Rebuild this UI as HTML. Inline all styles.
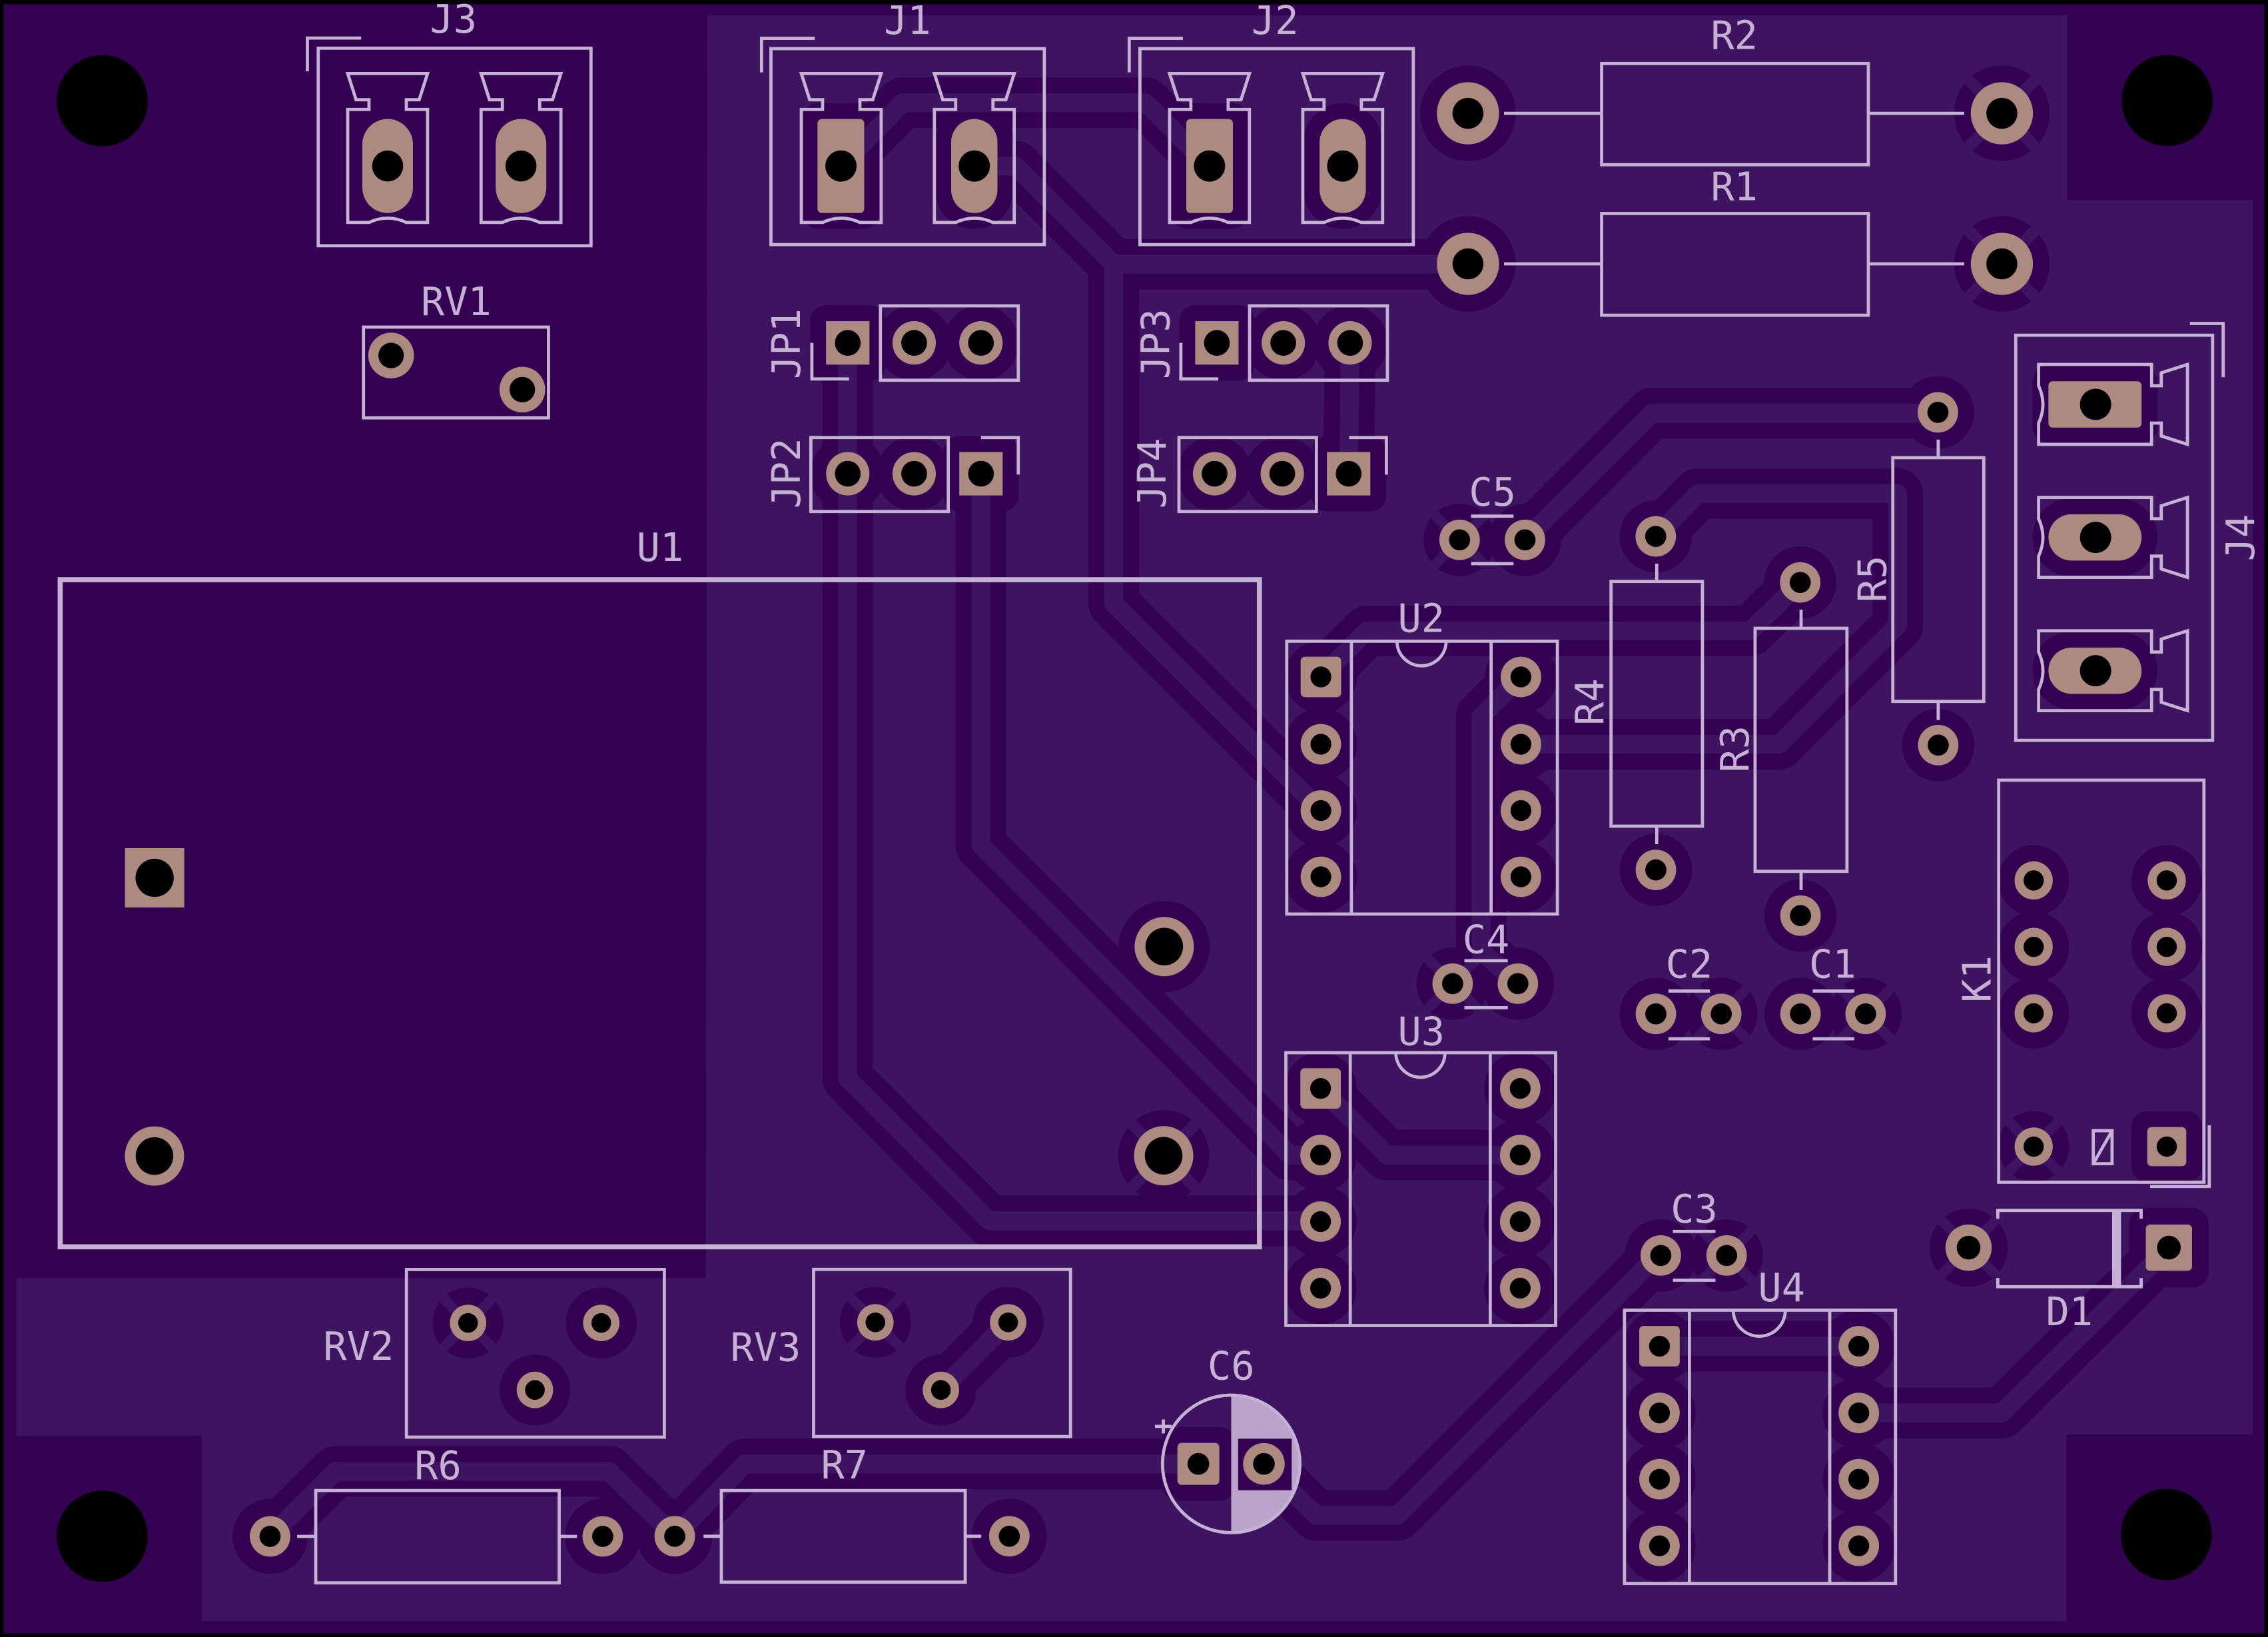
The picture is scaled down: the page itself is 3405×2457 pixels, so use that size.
<!DOCTYPE html>
<html><head><meta charset="utf-8"><style>
html,body{margin:0;padding:0;background:#000}
svg{display:block}
.s{fill:none;stroke:#c4b1d4;stroke-width:2.2}
.k{fill:#330052}
.p{fill:#ad8a80}
.h{fill:#000}
.td{fill:none;stroke:#330052;stroke-width:35;stroke-linejoin:round;stroke-linecap:round}
.tl{fill:none;stroke:#3e1460;stroke-width:13;stroke-linejoin:round;stroke-linecap:round}
.sp{fill:none;stroke:#3e1460;stroke-width:8}
text{font-family:"DejaVu Sans Mono","Liberation Mono",monospace;font-size:27px;fill:#c4b1d4}
</style></head><body>
<svg xmlns="http://www.w3.org/2000/svg" width="3405" height="2457" viewBox="0 0 1568 1131" preserveAspectRatio="none">
<rect width="1568" height="1131" fill="#000"/>
<rect x="2.5" y="3" width="1563" height="1125.5" fill="#330052"/>
<path d="M489,10.6 L1429,10.6 L1429,138.4 L1557.5,138.4 L1557.5,991 L1428.6,991 L1428.6,1120 L139.5,1120 L139.5,992 L11.3,992 L11.3,883 L488,883 Z" fill="#3e1460"/>

<!-- dark layer: traces clearance -->
<g class="td">
<polyline points="581.4,114.7 624,71 792,71 836.2,114.7"/>
<polyline points="673.5,114.7 702,114.7 770,182.5 1015,182.5"/>
<polyline points="770,182.5 770,417 913.2,560"/>
<polyline points="586,237 586,745 684,843.5 913,843.5"/>
<polyline points="678.2,327 678.2,584 892,798 913,798"/>
<polyline points="933.4,237 932.4,327"/>
<polyline points="1054.3,373 1142,285.5 1339.8,285.5"/>
<polyline points="1144.7,370.6 1174,341 1312,341 1312,432 1230,514.2 1051.5,514.2"/>
<polyline points="913.2,467.7 945,436 1210,436 1244.6,402.4"/>
<polyline points="1051.5,467.7 1024,495 1024,657 1049.4,679.6"/>
<polyline points="913,752 959,798 1051,798"/>
<polyline points="1147.3,930.1 1285.1,930.1"/>
<polyline points="1285.1,976.2 1384,976.2 1499.5,862"/>
<polyline points="873.8,1011.4 910,1047 966,1047 1146,867.4"/>
<polyline points="828.5,1011.4 515,1011.4 466.5,1061.4"/>
<polyline points="186.7,1061.5 232,1016.5 421,1016.5 466.5,1061.4"/>
<polyline points="697,913.6 650.5,960.3"/>
</g>

<!-- dark layer: pad clearances -->
<g class="k">
<circle cx="1014.9" cy="78.3" r="33"/><circle cx="1384" cy="78.3" r="33"/>
<circle cx="1014.9" cy="182.3" r="33"/><circle cx="1384" cy="182.3" r="33"/>
<circle cx="804.9" cy="654" r="31.5"/><circle cx="804.5" cy="798.5" r="31.5"/>
<rect x="554.2" y="71.2" width="54.4" height="87" rx="12"/>
<rect x="646.6" y="71.2" width="54" height="87" rx="27"/>
<rect x="809" y="71.2" width="54.4" height="87" rx="12"/>
<rect x="901.3" y="71.2" width="54" height="87" rx="27"/>
<rect x="1405.2" y="252.4" width="86.4" height="54" rx="12"/>
<rect x="1405.2" y="344.3" width="86.4" height="54" rx="27"/>
<rect x="1405.2" y="436.4" width="86.4" height="54" rx="27"/>
<rect x="560.1" y="210.9" width="52" height="52" rx="11"/><circle cx="632" cy="236.9" r="26"/><circle cx="678.2" cy="236.9" r="26"/>
<circle cx="586.1" cy="327.3" r="26"/><circle cx="632" cy="327.3" r="26"/><rect x="652.2" y="301.3" width="52" height="52" rx="11"/>
<rect x="815.3" y="210.9" width="52" height="52" rx="11"/><circle cx="887.2" cy="236.9" r="26"/><circle cx="933.4" cy="236.9" r="26"/>
<circle cx="839.7" cy="327.3" r="26"/><circle cx="886.5" cy="327.3" r="26"/><rect x="906.4" y="301.3" width="52" height="52" rx="11"/>
<circle cx="1009.1" cy="373" r="25"/><circle cx="1054.3" cy="373" r="25"/>
<circle cx="1339.8" cy="284.9" r="25"/><circle cx="1340" cy="514.8" r="25"/>
<circle cx="1144.7" cy="370.6" r="25"/><circle cx="1144.8" cy="601" r="25"/>
<circle cx="1244.6" cy="402.4" r="25"/><circle cx="1244.8" cy="632.6" r="25"/>
<circle cx="1004.3" cy="679.6" r="25"/><circle cx="1049.4" cy="679.6" r="25"/>
<circle cx="1144.8" cy="700.5" r="25"/><circle cx="1190" cy="700.5" r="25"/>
<circle cx="1244.8" cy="700.5" r="25"/><circle cx="1289.8" cy="700.5" r="25"/>
<circle cx="1148.2" cy="867.4" r="25"/><circle cx="1193.7" cy="867.4" r="25"/>
<circle cx="186.7" cy="1061.5" r="26"/><circle cx="416.7" cy="1061.5" r="26"/>
<circle cx="466.5" cy="1061.4" r="26"/><circle cx="697.8" cy="1061.4" r="26"/>
<circle cx="873.8" cy="1011.4" r="25.5"/><rect x="803" y="985.9" width="51" height="51" rx="11"/>
<circle cx="913.2" cy="467.7" r="25"/><circle cx="913.2" cy="514.2" r="25"/><circle cx="913.2" cy="560" r="25"/><circle cx="913.2" cy="605.8" r="25"/>
<circle cx="1051.5" cy="467.7" r="25"/><circle cx="1051.5" cy="514.2" r="25"/><circle cx="1051.5" cy="560" r="25"/><circle cx="1051.5" cy="605.8" r="25"/>
<circle cx="913" cy="752" r="25"/><circle cx="913" cy="798" r="25"/><circle cx="913" cy="844" r="25"/><circle cx="913" cy="890" r="25"/>
<circle cx="1051" cy="752" r="25"/><circle cx="1051" cy="798" r="25"/><circle cx="1051" cy="844" r="25"/><circle cx="1051" cy="890" r="25"/>
<circle cx="1147.3" cy="930.1" r="25"/><circle cx="1147.3" cy="976.2" r="25"/><circle cx="1147.3" cy="1022" r="25"/><circle cx="1147.3" cy="1068" r="25"/>
<circle cx="1285.1" cy="930.1" r="25"/><circle cx="1285.1" cy="976.2" r="25"/><circle cx="1285.1" cy="1022" r="25"/><circle cx="1285.1" cy="1068" r="25"/>
<circle cx="1406" cy="608.3" r="24.5"/><circle cx="1406" cy="654.2" r="24.5"/><circle cx="1406" cy="700.1" r="24.5"/><circle cx="1406" cy="792.2" r="24.5"/>
<circle cx="1498" cy="608.3" r="24.5"/><circle cx="1498" cy="654.2" r="24.5"/><circle cx="1498" cy="700.1" r="24.5"/>
<rect x="1473.5" y="767.7" width="49" height="49" rx="11"/>
<circle cx="1361" cy="862" r="27"/><rect x="1472" y="834.5" width="55" height="55" rx="11"/>
<circle cx="323.6" cy="914" r="24.5"/><circle cx="415.7" cy="914" r="24.5"/><circle cx="369.8" cy="960.3" r="24.5"/>
<circle cx="605.2" cy="913.6" r="24.5"/><circle cx="697" cy="913.6" r="24.5"/><circle cx="650.5" cy="960.3" r="24.5"/>
</g>

<!-- light layer: traces -->
<g class="tl">
<polyline points="581.4,114.7 624,71 792,71 836.2,114.7"/>
<polyline points="673.5,114.7 702,114.7 770,182.5 1015,182.5"/>
<polyline points="770,182.5 770,417 913.2,560"/>
<polyline points="586,237 586,745 684,843.5 913,843.5"/>
<polyline points="678.2,327 678.2,584 892,798 913,798"/>
<polyline points="933.4,237 932.4,327"/>
<polyline points="1054.3,373 1142,285.5 1339.8,285.5"/>
<polyline points="1144.7,370.6 1174,341 1312,341 1312,432 1230,514.2 1051.5,514.2"/>
<polyline points="913.2,467.7 945,436 1210,436 1244.6,402.4"/>
<polyline points="1051.5,467.7 1024,495 1024,657 1049.4,679.6"/>
<polyline points="913,752 959,798 1051,798"/>
<polyline points="1147.3,930.1 1285.1,930.1"/>
<polyline points="1285.1,976.2 1384,976.2 1499.5,862"/>
<polyline points="873.8,1011.4 910,1047 966,1047 1146,867.4"/>
<polyline points="828.5,1011.4 515,1011.4 466.5,1061.4"/>
<polyline points="186.7,1061.5 232,1016.5 421,1016.5 466.5,1061.4"/>
<polyline points="697,913.6 650.5,960.3"/>
</g>

<!-- thermal spokes -->
<path class="sp" d="M1360.7,55 L1407.3,101.6 M1407.3,55 L1360.7,101.6
M1360.7,159 L1407.3,205.6 M1407.3,159 L1360.7,205.6
M782.2,776.2 L826.8,820.8 M826.8,776.2 L782.2,820.8"/>
<path class="sp" style="stroke-width:7" d="M991.4,355.3 L1026.8,390.7 M1026.8,355.3 L991.4,390.7
M986.6,661.9 L1022,697.3 M1022,661.9 L986.6,697.3
M1172.3,682.8 L1207.7,718.2 M1207.7,682.8 L1172.3,718.2
M1272.1,682.8 L1307.5,718.2 M1307.5,682.8 L1272.1,718.2
M1176,849.7 L1211.4,885.1 M1211.4,849.7 L1176,885.1
M1388.7,774.9 L1423.3,809.5 M1423.3,774.9 L1388.7,809.5
M1341.9,842.9 L1380.1,881.1 M1380.1,842.9 L1341.9,881.1
M306.3,896.7 L340.9,931.3 M340.9,896.7 L306.3,931.3
M587.9,896.3 L622.5,930.9 M622.5,896.3 L587.9,930.9"/>

<!-- pads -->
<g class="p">
<circle cx="1014.9" cy="78.3" r="21.5"/><circle cx="1384" cy="78.3" r="21.5"/>
<circle cx="1014.9" cy="182.3" r="21.5"/><circle cx="1384" cy="182.3" r="21.5"/>
<rect x="86.4" y="586" width="41" height="41"/>
<circle cx="106.8" cy="798.7" r="20.5"/><circle cx="804.9" cy="654" r="20.5"/><circle cx="804.5" cy="798.5" r="20.5"/>
<rect x="250.5" y="82.2" width="35" height="65" rx="17.5"/><rect x="342.7" y="82.2" width="35" height="65" rx="17.5"/>
<rect x="565.2" y="82.2" width="32.3" height="65" rx="3"/><rect x="657.6" y="82.2" width="32" height="65" rx="16"/>
<rect x="820.1" y="82.2" width="32.3" height="65" rx="3"/><rect x="912.3" y="82.2" width="32" height="65" rx="16"/>
<rect x="1416.2" y="263.4" width="64.4" height="32" rx="3"/>
<rect x="1416.2" y="355.3" width="64.4" height="32" rx="16"/>
<rect x="1416.2" y="447.4" width="64.4" height="32" rx="16"/>
<circle cx="270.4" cy="245.6" r="15.8"/><circle cx="361.1" cy="269.2" r="15.8"/>
<rect x="571.1" y="221.9" width="30" height="30"/><circle cx="632" cy="236.9" r="15"/><circle cx="678.2" cy="236.9" r="15"/>
<circle cx="586.1" cy="327.3" r="15"/><circle cx="632" cy="327.3" r="15"/><rect x="663.2" y="312.3" width="30" height="30"/>
<rect x="826.3" y="221.9" width="30" height="30"/><circle cx="887.2" cy="236.9" r="15"/><circle cx="933.4" cy="236.9" r="15"/>
<circle cx="839.7" cy="327.3" r="15"/><circle cx="886.5" cy="327.3" r="15"/><rect x="917.4" y="312.3" width="30" height="30"/>
<circle cx="1009.1" cy="373" r="14"/><circle cx="1054.3" cy="373" r="14"/>
<circle cx="1339.8" cy="284.9" r="14"/><circle cx="1340" cy="514.8" r="14"/>
<circle cx="1144.7" cy="370.6" r="14"/><circle cx="1144.8" cy="601" r="14"/>
<circle cx="1244.6" cy="402.4" r="14"/><circle cx="1244.8" cy="632.6" r="14"/>
<circle cx="1004.3" cy="679.6" r="14"/><circle cx="1049.4" cy="679.6" r="14"/>
<circle cx="1144.8" cy="700.5" r="14"/><circle cx="1190" cy="700.5" r="14"/>
<circle cx="1244.8" cy="700.5" r="14"/><circle cx="1289.8" cy="700.5" r="14"/>
<circle cx="1148.2" cy="867.4" r="14"/><circle cx="1193.7" cy="867.4" r="14"/>
<circle cx="186.7" cy="1061.5" r="14"/><circle cx="416.7" cy="1061.5" r="14"/>
<circle cx="466.5" cy="1061.4" r="14"/><circle cx="697.8" cy="1061.4" r="14"/>
<rect x="814" y="996.9" width="29" height="29" rx="3"/>
<rect x="899.2" y="453.7" width="28" height="28" rx="3"/><circle cx="913.2" cy="514.2" r="14"/><circle cx="913.2" cy="560" r="14"/><circle cx="913.2" cy="605.8" r="14"/>
<circle cx="1051.5" cy="467.7" r="14"/><circle cx="1051.5" cy="514.2" r="14"/><circle cx="1051.5" cy="560" r="14"/><circle cx="1051.5" cy="605.8" r="14"/>
<rect x="899" y="738" width="28" height="28" rx="3"/><circle cx="913" cy="798" r="14"/><circle cx="913" cy="844" r="14"/><circle cx="913" cy="890" r="14"/>
<circle cx="1051" cy="752" r="14"/><circle cx="1051" cy="798" r="14"/><circle cx="1051" cy="844" r="14"/><circle cx="1051" cy="890" r="14"/>
<rect x="1133.3" y="916.1" width="28" height="28" rx="3"/><circle cx="1147.3" cy="976.2" r="14"/><circle cx="1147.3" cy="1022" r="14"/><circle cx="1147.3" cy="1068" r="14"/>
<circle cx="1285.1" cy="930.1" r="14"/><circle cx="1285.1" cy="976.2" r="14"/><circle cx="1285.1" cy="1022" r="14"/><circle cx="1285.1" cy="1068" r="14"/>
<circle cx="1406" cy="608.3" r="13.2"/><circle cx="1406" cy="654.2" r="13.2"/><circle cx="1406" cy="700.1" r="13.2"/><circle cx="1406" cy="792.2" r="13.2"/>
<circle cx="1498" cy="608.3" r="13.2"/><circle cx="1498" cy="654.2" r="13.2"/><circle cx="1498" cy="700.1" r="13.2"/>
<rect x="1484.5" y="778.7" width="27" height="27" rx="3"/>
<circle cx="1361" cy="862" r="16"/><rect x="1483.5" y="846" width="32" height="32" rx="3"/>
<circle cx="323.6" cy="914" r="12.6"/><circle cx="415.7" cy="914" r="12.6"/><circle cx="369.8" cy="960.3" r="12.6"/>
<circle cx="605.2" cy="913.6" r="12.6"/><circle cx="697" cy="913.6" r="12.6"/><circle cx="650.5" cy="960.3" r="12.6"/>
</g>

<!-- drills -->
<g class="h">
<circle cx="70.7" cy="69.6" r="31.5"/><circle cx="1498.3" cy="69.4" r="31.5"/>
<circle cx="70.7" cy="1061.4" r="31.5"/><circle cx="1497.7" cy="1060.2" r="31.5"/>
<circle cx="1014.9" cy="78.3" r="10.7"/><circle cx="1384" cy="78.3" r="10.7"/>
<circle cx="1014.9" cy="182.3" r="10.7"/><circle cx="1384" cy="182.3" r="10.7"/>
<circle cx="106.9" cy="606.5" r="13.2"/><circle cx="106.8" cy="798.7" r="13"/><circle cx="804.9" cy="654" r="13"/><circle cx="804.5" cy="798.5" r="13"/>
<circle cx="268" cy="114.7" r="10.7"/><circle cx="360.2" cy="114.7" r="10.7"/>
<circle cx="581.4" cy="114.7" r="10.8"/><circle cx="673.6" cy="114.7" r="10.8"/>
<circle cx="836.2" cy="114.7" r="10.8"/><circle cx="928.3" cy="114.7" r="10.8"/>
<circle cx="1448.8" cy="279.4" r="10.8"/><circle cx="1448.8" cy="371.3" r="10.8"/><circle cx="1448.8" cy="463.4" r="10.8"/>
<circle cx="270.4" cy="245.6" r="8.8"/><circle cx="361.1" cy="269.2" r="8.8"/>
<circle cx="586.1" cy="236.9" r="8.9"/><circle cx="632" cy="236.9" r="8.9"/><circle cx="678.2" cy="236.9" r="8.9"/>
<circle cx="586.1" cy="327.3" r="8.9"/><circle cx="632" cy="327.3" r="8.9"/><circle cx="678.2" cy="327.3" r="8.9"/>
<circle cx="841.3" cy="236.9" r="8.9"/><circle cx="887.2" cy="236.9" r="8.9"/><circle cx="933.4" cy="236.9" r="8.9"/>
<circle cx="839.7" cy="327.3" r="8.9"/><circle cx="886.5" cy="327.3" r="8.9"/><circle cx="932.4" cy="327.3" r="8.9"/>
<circle cx="1009.1" cy="373" r="7.3"/><circle cx="1054.3" cy="373" r="7.3"/>
<circle cx="1339.8" cy="284.9" r="7.3"/><circle cx="1340" cy="514.8" r="7.3"/>
<circle cx="1144.7" cy="370.6" r="7.3"/><circle cx="1144.8" cy="601" r="7.3"/>
<circle cx="1244.6" cy="402.4" r="7.3"/><circle cx="1244.8" cy="632.6" r="7.3"/>
<circle cx="1004.3" cy="679.6" r="7.3"/><circle cx="1049.4" cy="679.6" r="7.3"/>
<circle cx="1144.8" cy="700.5" r="7.3"/><circle cx="1190" cy="700.5" r="7.3"/>
<circle cx="1244.8" cy="700.5" r="7.3"/><circle cx="1289.8" cy="700.5" r="7.3"/>
<circle cx="1148.2" cy="867.4" r="7.3"/><circle cx="1193.7" cy="867.4" r="7.3"/>
<circle cx="186.7" cy="1061.5" r="7.3"/><circle cx="416.7" cy="1061.5" r="7.3"/>
<circle cx="466.5" cy="1061.4" r="7.3"/><circle cx="697.8" cy="1061.4" r="7.3"/>
<circle cx="828.5" cy="1011.4" r="7.5"/>
<circle cx="913.2" cy="467.7" r="7.2"/><circle cx="913.2" cy="514.2" r="7.2"/><circle cx="913.2" cy="560" r="7.2"/><circle cx="913.2" cy="605.8" r="7.2"/>
<circle cx="1051.5" cy="467.7" r="7.2"/><circle cx="1051.5" cy="514.2" r="7.2"/><circle cx="1051.5" cy="560" r="7.2"/><circle cx="1051.5" cy="605.8" r="7.2"/>
<circle cx="913" cy="752" r="7.2"/><circle cx="913" cy="798" r="7.2"/><circle cx="913" cy="844" r="7.2"/><circle cx="913" cy="890" r="7.2"/>
<circle cx="1051" cy="752" r="7.2"/><circle cx="1051" cy="798" r="7.2"/><circle cx="1051" cy="844" r="7.2"/><circle cx="1051" cy="890" r="7.2"/>
<circle cx="1147.3" cy="930.1" r="7.2"/><circle cx="1147.3" cy="976.2" r="7.2"/><circle cx="1147.3" cy="1022" r="7.2"/><circle cx="1147.3" cy="1068" r="7.2"/>
<circle cx="1285.1" cy="930.1" r="7.2"/><circle cx="1285.1" cy="976.2" r="7.2"/><circle cx="1285.1" cy="1022" r="7.2"/><circle cx="1285.1" cy="1068" r="7.2"/>
<circle cx="1406" cy="608.3" r="7"/><circle cx="1406" cy="654.2" r="7"/><circle cx="1406" cy="700.1" r="7"/><circle cx="1406" cy="792.2" r="7"/>
<circle cx="1498" cy="608.3" r="7"/><circle cx="1498" cy="654.2" r="7"/><circle cx="1498" cy="700.1" r="7"/><circle cx="1498" cy="792.2" r="7"/>
<circle cx="1361" cy="862" r="8.2"/><circle cx="1499.5" cy="862" r="8.2"/>
<circle cx="323.6" cy="914" r="6.8"/><circle cx="415.7" cy="914" r="6.8"/><circle cx="369.8" cy="960.3" r="6.8"/>
<circle cx="605.2" cy="913.6" r="6.8"/><circle cx="697" cy="913.6" r="6.8"/><circle cx="650.5" cy="960.3" r="6.8"/>
</g>

<!-- silkscreen -->
<g class="s">
<rect x="220" y="33.3" width="188.6" height="136.5"/><polyline points="212.5,49.3 212.5,26.3 249.7,26.3"/>
<rect x="533" y="33.6" width="189" height="135.4"/><polyline points="526.5,50 526.5,26.5 563.3,26.5"/>
<rect x="788.1" y="33.6" width="189" height="135.4"/><polyline points="780.7,50 780.7,26.5 817.8,26.5"/>
<rect x="1393.6" y="231.6" width="136.1" height="279.9"/><polyline points="1514,223.5 1537,223.5 1537,260.6"/>
<path transform="translate(268,114.7)" d="M-27.6,-63.9 L27.6,-63.9 L21.8,-45.8 L12.9,-45.8 L12.9,-39.1 L27.6,-39.1 L27.6,39 L12.9,39 Q0,33 -12.9,39 L-27.6,39 L-27.6,-39.1 L-12.9,-39.1 L-12.9,-45.8 L-21.8,-45.8 Z"/>
<path transform="translate(360.2,114.7)" d="M-27.6,-63.9 L27.6,-63.9 L21.8,-45.8 L12.9,-45.8 L12.9,-39.1 L27.6,-39.1 L27.6,39 L12.9,39 Q0,33 -12.9,39 L-27.6,39 L-27.6,-39.1 L-12.9,-39.1 L-12.9,-45.8 L-21.8,-45.8 Z"/>
<path transform="translate(581.6,114.7)" d="M-27.6,-63.9 L27.6,-63.9 L21.8,-45.8 L12.9,-45.8 L12.9,-39.1 L27.6,-39.1 L27.6,39 L12.9,39 Q0,33 -12.9,39 L-27.6,39 L-27.6,-39.1 L-12.9,-39.1 L-12.9,-45.8 L-21.8,-45.8 Z"/>
<path transform="translate(673.6,114.7)" d="M-27.6,-63.9 L27.6,-63.9 L21.8,-45.8 L12.9,-45.8 L12.9,-39.1 L27.6,-39.1 L27.6,39 L12.9,39 Q0,33 -12.9,39 L-27.6,39 L-27.6,-39.1 L-12.9,-39.1 L-12.9,-45.8 L-21.8,-45.8 Z"/>
<path transform="translate(836.2,114.7)" d="M-27.6,-63.9 L27.6,-63.9 L21.8,-45.8 L12.9,-45.8 L12.9,-39.1 L27.6,-39.1 L27.6,39 L12.9,39 Q0,33 -12.9,39 L-27.6,39 L-27.6,-39.1 L-12.9,-39.1 L-12.9,-45.8 L-21.8,-45.8 Z"/>
<path transform="translate(928.3,114.7)" d="M-27.6,-63.9 L27.6,-63.9 L21.8,-45.8 L12.9,-45.8 L12.9,-39.1 L27.6,-39.1 L27.6,39 L12.9,39 Q0,33 -12.9,39 L-27.6,39 L-27.6,-39.1 L-12.9,-39.1 L-12.9,-45.8 L-21.8,-45.8 Z"/>
<path transform="translate(1448.4,279.4) rotate(90)" d="M-27.6,-63.9 L27.6,-63.9 L21.8,-45.8 L12.9,-45.8 L12.9,-39.1 L27.6,-39.1 L27.6,39 L12.9,39 Q0,33 -12.9,39 L-27.6,39 L-27.6,-39.1 L-12.9,-39.1 L-12.9,-45.8 L-21.8,-45.8 Z"/>
<path transform="translate(1448.4,371.3) rotate(90)" d="M-27.6,-63.9 L27.6,-63.9 L21.8,-45.8 L12.9,-45.8 L12.9,-39.1 L27.6,-39.1 L27.6,39 L12.9,39 Q0,33 -12.9,39 L-27.6,39 L-27.6,-39.1 L-12.9,-39.1 L-12.9,-45.8 L-21.8,-45.8 Z"/>
<path transform="translate(1448.4,463.4) rotate(90)" d="M-27.6,-63.9 L27.6,-63.9 L21.8,-45.8 L12.9,-45.8 L12.9,-39.1 L27.6,-39.1 L27.6,39 L12.9,39 Q0,33 -12.9,39 L-27.6,39 L-27.6,-39.1 L-12.9,-39.1 L-12.9,-45.8 L-21.8,-45.8 Z"/>
<rect x="251.3" y="226" width="127.9" height="62.7"/>
<rect x="41.6" y="400.5" width="829.1" height="460.9" style="stroke-width:3.5"/>
<rect x="608.7" y="211.3" width="95.3" height="51.4"/><polyline points="561.3,236.9 561.3,261.8 587,261.8"/>
<rect x="560.6" y="302.3" width="95" height="51.1"/><polyline points="678.2,302.3 704,302.3 704,327.9"/>
<rect x="863.9" y="211.3" width="95.3" height="51.4"/><polyline points="816.4,236.9 816.4,261.8 842.3,261.8"/>
<rect x="815.1" y="302.3" width="95" height="51.1"/><polyline points="932.7,302.3 958.5,302.3 958.5,327.9"/>
<rect x="1107.3" y="43.9" width="184.4" height="69.9"/><path d="M1039.8,78.3 H1107.3 M1291.7,78.3 H1358"/>
<rect x="1107.3" y="147.5" width="184.4" height="70.3"/><path d="M1039.8,182.3 H1107.3 M1291.7,182.3 H1358"/>
<rect x="1308.6" y="316.2" width="62.9" height="168.4"/><path d="M1340,303.7 V316.2 M1340,484.6 V497.5"/>
<rect x="1113.8" y="401.7" width="63.2" height="169.1"/><path d="M1145.4,389.4 V401.7 M1145.4,570.8 V583.2"/>
<rect x="1213.4" y="434.1" width="63.5" height="167.9"/><path d="M1245.2,421.2 V434.1 M1245.2,602 V615"/>
<path d="M1017,356.6 H1046.4 M1017,389.4 H1046.4"/>
<path d="M1012.4,663.7 H1042.4 M1012.4,696.2 H1042.4"/>
<path d="M1153.5,684.7 H1182.2 M1153.5,717.7 H1182.2"/>
<path d="M1253.2,684.7 H1282 M1253.2,717.7 H1282"/>
<path d="M1156.6,850.8 H1186 M1156.6,884.5 H1186"/>
<rect x="889.6" y="443" width="187.1" height="188.5"/><path d="M934.3,443 V631.5 M1030.9,443 V631.5 M965.8,443 A17,17 0 0 0 999.8,443"/>
<rect x="889" y="727.3" width="186.5" height="188.5"/><path d="M933.5,727.3 V915.8 M1030.3,727.3 V915.8 M965,727.3 A17,17 0 0 0 999,727.3"/>
<rect x="1123.1" y="905.2" width="187.4" height="188.8"/><path d="M1168,905.2 V1094 M1265,905.2 V1094 M1198.3,905.2 A18,18 0 0 0 1234.3,905.2"/>
<rect x="1381.8" y="539" width="141.9" height="277.8"/><polyline points="1486.5,819.7 1527.4,819.7 1527.4,777.5"/>
<rect x="1447.2" y="781.2" width="13" height="22.8"/><path d="M1447.2,804 L1460.2,781.2"/>
<path d="M1381.2,842 V836.3 H1480.3 V842 M1381.2,883 V889 H1480.3 V883"/>
<path d="M798.5,985.5 H810 M804.3,980.7 V990.3"/>
<rect x="281" y="877.1" width="178.3" height="115.8"/>
<rect x="562.5" y="877" width="177.6" height="115.5"/>
<rect x="218.3" y="1029.8" width="168.3" height="63.8"/><path d="M205.4,1061.5 H218.3 M386.6,1061.5 H398.9"/>
<rect x="498.7" y="1029.8" width="168.6" height="63.3"/><path d="M486.4,1061.4 H498.7 M667.3,1061.4 H678.4"/>
<circle cx="851.2" cy="1011.4" r="47.5"/>
</g>
<rect x="1460.2" y="836.3" width="6.2" height="52.7" fill="#c4b1d4"/>
<path d="M851.2,963.9 A47.5,47.5 0 0 1 851.2,1058.9 Z" fill="#c4b1d4" opacity="0.92"/>
<rect x="856" y="994" width="37" height="35.6" fill="#330052"/>
<circle cx="873.8" cy="1011.4" r="14.4" class="p"/><circle cx="873.8" cy="1011.4" r="7.5" class="h"/>

<!-- labels -->
<g text-anchor="middle">
<text x="313.5" y="22.6">J3</text>
<text x="627.4" y="23.5">J1</text>
<text x="881.5" y="23.5">J2</text>
<text x="1199" y="33.8">R2</text>
<text x="1199" y="138.4">R1</text>
<text x="315.4" y="217.8">RV1</text>
<text x="456.3" y="387.7">U1</text>
<text x="1031.8" y="349.5">C5</text>
<text x="982.6" y="436.7">U2</text>
<text x="1027.4" y="658.5">C4</text>
<text x="1167.8" y="675.5">C2</text>
<text x="1267" y="675.5">C1</text>
<text x="982.6" y="722">U3</text>
<text x="1171.3" y="844.6">C3</text>
<text x="1231.7" y="899">U4</text>
<text x="1430.7" y="915.6">D1</text>
<text x="851.1" y="953.2">C6</text>
<text x="247.9" y="939.5">RV2</text>
<text x="529.3" y="940.3">RV3</text>
<text x="302.8" y="1021.8">R6</text>
<text x="583.8" y="1021.4">R7</text>
<text transform="translate(543.3,237.6) rotate(-90)" x="0" y="9.8">JP1</text>
<text transform="translate(543.3,327) rotate(-90)" x="0" y="9.8">JP2</text>
<text transform="translate(798.5,237.6) rotate(-90)" x="0" y="9.8">JP3</text>
<text transform="translate(796,327) rotate(-90)" x="0" y="9.8">JP4</text>
<text transform="translate(1098.7,485) rotate(-90)" x="0" y="9.8">R4</text>
<text transform="translate(1199,517.5) rotate(-90)" x="0" y="9.8">R3</text>
<text transform="translate(1294,400) rotate(-90)" x="0" y="9.8">R5</text>
<text transform="translate(1366.5,676.4) rotate(-90)" x="0" y="9.8">K1</text>
<text transform="translate(1548.5,371.5) rotate(-90)" x="0" y="9.8">J4</text>
</g>
</svg>
</body></html>
